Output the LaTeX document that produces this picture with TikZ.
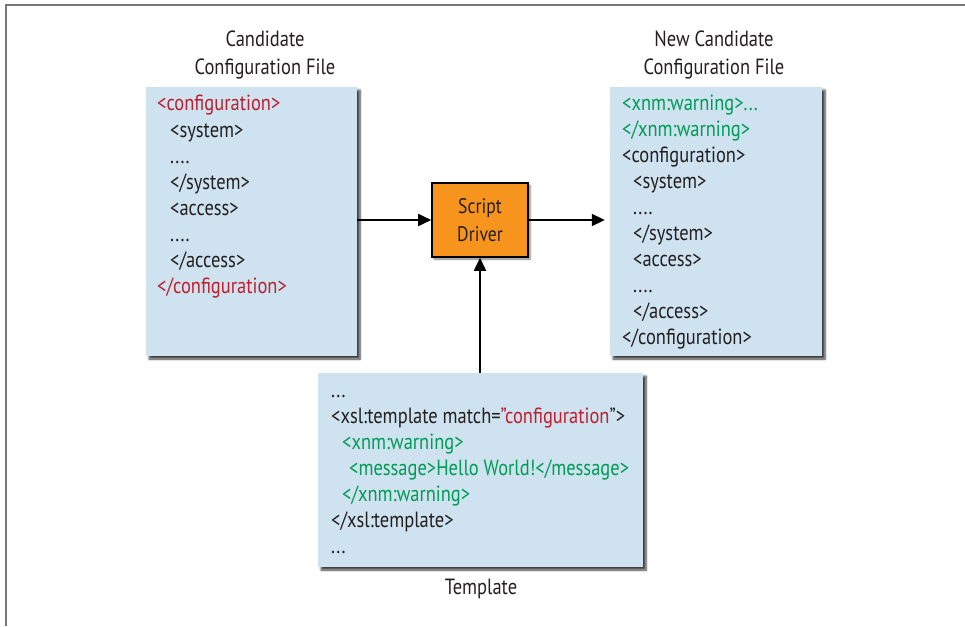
\documentclass[tikz,border=0pt]{standalone}
\usepackage{fontspec}
\setmainfont[FakeStretch=0.84]{PT Sans}
\usetikzlibrary{arrows.meta,shadows.blur}
\definecolor{boxblue}{RGB}{206,226,240}
\definecolor{xred}{RGB}{190,30,45}
\definecolor{xgreen}{RGB}{0,155,85}
\definecolor{drvorange}{RGB}{247,148,29}
\definecolor{ink}{RGB}{35,31,32}
\definecolor{framegray}{RGB}{120,120,120}
\begin{document}
\begin{tikzpicture}[x=1pt,y=-1pt,
  every node/.style={text=ink},
  filebox/.style={fill=boxblue, draw=none, inner sep=0pt,
    blur shadow={shadow xshift=3pt, shadow yshift=-3pt, shadow blur steps=6, shadow opacity=75}},
  code/.style={anchor=mid west, inner sep=0pt, font=\fontsize{22}{26}\selectfont},
  title/.style={align=center, inner sep=0pt, font=\fontsize{22}{28}\selectfont},
  driverbox/.style={fill=drvorange, draw=black, line width=1.6pt, inner sep=0pt,
    minimum width=96pt, minimum height=74pt, align=center,
    font=\fontsize{21}{28}\selectfont,
    blur shadow={shadow xshift=2pt, shadow yshift=-2pt, shadow blur steps=5, shadow opacity=50}},
  flow/.style={line width=1.8pt, -{Triangle[length=13pt,width=12pt]}}]
\useasboundingbox (0,0) rectangle (965,626);
% frame
\draw[framegray, line width=1.5pt] (965,5) -- (6,5) -- (6,626);

% boxes
\node[filebox, minimum width=211pt, minimum height=269pt] (cand) at (251.5,221.5) {};
\node[filebox, minimum width=212pt, minimum height=269pt] (newc) at (716,221.5) {};
\node[filebox, minimum width=325pt, minimum height=194pt] (tmpl) at (480.5,470) {};
\node[driverbox] (drv) at (480,220) {Script\\Driver};

% titles
\node[title] (tcand) at (265,55) {Candidate\\Configuration File};
\node[title] (tnewc) at (714,55) {New Candidate\\Configuration File};
\node[title] (ttmpl) at (481,589) {Template};

% candidate file text
\node[code, text=xred] (c1) at (157,108) {<configuration>};
\node[code] (c2) at (170,135) {<system>};
\node[code] (c3) at (170,161) {....};
\node[code] (c4) at (170,187) {</system>};
\node[code] (c5) at (170,213) {<access>};
\node[code] (c6) at (170,239) {....};
\node[code] (c7) at (170,265) {</access>};
\node[code, text=xred] (c8) at (157,291) {</configuration>};

% new candidate file text
\node[code, text=xgreen] (n1) at (622,108) {<xnm:warning>...};
\node[code, text=xgreen] (n2) at (622,134) {</xnm:warning>};
\node[code] (n3) at (622,160) {<configuration>};
\node[code] (n4) at (633,186) {<system>};
\node[code] (n5) at (633,212) {....};
\node[code] (n6) at (633,238) {</system>};
\node[code] (n7) at (633,264) {<access>};
\node[code] (n8) at (633,290) {....};
\node[code] (n9) at (633,316) {</access>};
\node[code] (n10) at (622,342) {</configuration>};

% template text
\node[code] (m1) at (331,395) {...};
\node[code] (m2) at (331,421) {<xsl:template match=\textcolor{xred}{"configuration}"{}>};
\node[code, text=xgreen] (m3) at (342,447) {<xnm:warning>};
\node[code, text=xgreen] (m4) at (349,473) {<message>Hello World!</message>};
\node[code, text=xgreen] (m5) at (342,499) {</xnm:warning>};
\node[code] (m6) at (331,525) {</xsl:template>};
\node[code] (m7) at (331,551) {...};

% connectors
\draw[flow] (cand.east |- drv.west) -- (drv.west);
\draw[flow, shorten >=5pt] (drv.east) -- (newc.west |- drv.east);
\draw[flow] (tmpl.north -| drv.south) -- (drv.south);
\end{tikzpicture}
\end{document}
